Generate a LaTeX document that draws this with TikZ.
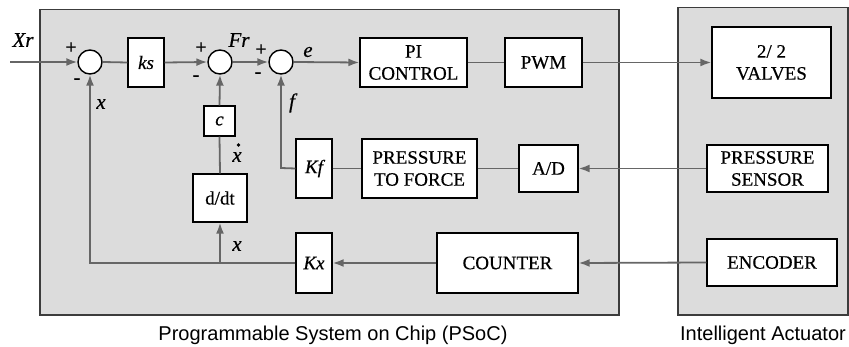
\documentclass[tikz,border=0pt]{standalone}
\usepackage{fontspec}
\setmainfont{Liberation Serif}[BoldFont=Liberation Serif,BoldFeatures={FakeBold=0.5},
  BoldItalicFont=Liberation Serif Italic,BoldItalicFeatures={FakeBold=0.5}]
\newfontfamily\capfont{Liberation Sans}
\usetikzlibrary{arrows.meta}
\definecolor{panelfill}{HTML}{DCDCDC}
\definecolor{panelline}{HTML}{3C3C3C}
\definecolor{wire}{HTML}{666666}
\begin{document}
\begin{tikzpicture}[x=1pt,y=-1pt,
  blk/.style={draw=black,line width=1.4pt,fill=white,inner sep=0pt,align=center,
    font=\fontsize{19}{22}\selectfont\bfseries},
  sumj/.style={circle,draw=black,line width=1.4pt,fill=white,minimum size=24pt,inner sep=0pt},
  wirel/.style={draw=wire,line width=1.8pt},
  arr/.style={wirel,-{Latex[length=11pt,width=8pt]}},
  lab/.style={inner sep=0pt,font=\fontsize{21}{22}\selectfont\bfseries\itshape},
  sgn/.style={inner sep=0pt,font=\fontsize{20}{20}\selectfont\bfseries},
  captxt/.style={inner sep=0pt,anchor=base,font=\fontsize{20}{22}\selectfont\capfont},
  panel/.style={draw=panelline,line width=1.6pt,fill=panelfill}]
\useasboundingbox (0,0) rectangle (849,347);
% panels
\draw[panel] (40,9.5) rectangle (619,315);
\draw[panel] (678,7.5) rectangle (848,315);
% summing junctions
\node[sumj] (s1) at (90,62) {};
\node[sumj] (s2) at (220,62) {};
\node[sumj] (s3) at (281,62) {};
% blocks
\node[blk,minimum width=36pt,minimum height=49pt] (ks) at (146,62.5) {\itshape ks};
\node[blk,minimum width=107pt,minimum height=49pt] (pi) at (413.5,62.5) {PI\\CONTROL};
\node[blk,minimum width=77pt,minimum height=49pt] (pwm) at (543.5,62.5) {PWM};
\node[blk,minimum width=119pt,minimum height=71pt] (val) at (771.5,62.5) {2/ 2\\VALVES};
\node[blk,minimum width=31pt,minimum height=30pt] (c) at (219.5,121) {\itshape c};
\node[blk,minimum width=54pt,minimum height=48pt] (ddt) at (220,198) {d/dt};
\node[blk,minimum width=36pt,minimum height=59pt] (kf) at (314,168.5) {\itshape Kf};
\node[blk,minimum width=115pt,minimum height=59pt] (ptf) at (419.5,168.5) {PRESSURE\\TO FORCE};
\node[blk,minimum width=59pt,minimum height=47pt] (ad) at (548.5,168.5) {A/D};
\node[blk,minimum width=121pt,minimum height=47pt] (ps) at (767.5,168.5) {PRESSURE\\SENSOR};
\node[blk,minimum width=36pt,minimum height=60pt] (kx) at (314,263) {\itshape Kx};
\node[blk,minimum width=141pt,minimum height=60pt] (cnt) at (507.5,263) {COUNTER};
\node[blk,minimum width=130pt,minimum height=47pt] (enc) at (772,262.5) {ENCODER};
% free ends / corners
\coordinate (xin) at (10,62);
\coordinate (kfc) at (281,168);
\coordinate (kxc) at (90,263);
\coordinate (jx) at (220,263);
% connectors
\draw[arr] (xin) -- (s1.west);
\draw[wirel] (s1.east) -- (ks.west);
\draw[arr] (ks.east) -- (s2.west);
\draw[arr] (s2.east) -- (s3.west);
\draw[arr] (s3.east) -- (pi.west);
\draw[wirel] (pi.east) -- (pwm.west);
\draw[arr] (pwm.east) -- (val.west);
\draw[arr] (c.north) -- (s2.south);
\draw[wirel] (ddt.north) -- (c.south);
\draw[arr] (jx) -- (ddt.south);
\draw[arr] (kx.west) -- (kxc) -- (s1.south);
\draw[arr] (kf.west) -- (kfc) -- (s3.south);
\draw[wirel] (ptf.east) -- (ad.west);
\draw[wirel] (kf.east) -- (ptf.west);
\draw[arr] (ps.west) -- (ad.east);
\draw[arr] (cnt.west) -- (kx.east);
\draw[arr] (enc.west) -- (cnt.east);
% labels
\node[lab] (lxr) at (23,40) {Xr};
\node[sgn] (p1) at (71,48) {+};
\node[sgn] (m1) at (77,81) {-};
\node[lab] (lx1) at (101,104) {x};
\node[lab] (lfr) at (239,40) {Fr};
\node[sgn] (p2) at (201,48) {+};
\node[sgn] (m2) at (196,78) {-};
\node[sgn] (p3) at (261,50) {+};
\node[sgn] (m3) at (258,75) {-};
\node[lab] (le) at (308,52) {e};
\node[lab] (lf) at (292,103) {f};
\node[lab] (lxd) at (237,157) {x};
\fill (238.5,145) circle (1.8pt);
\node[lab] (lx2) at (237,246) {x};
% captions
\node[captxt] (c1) at (333,341) {Programmable System on Chip (PSoC)};
\node[captxt] (c2) at (763,341) {Intelligent Actuator};
\end{tikzpicture}
\end{document}
